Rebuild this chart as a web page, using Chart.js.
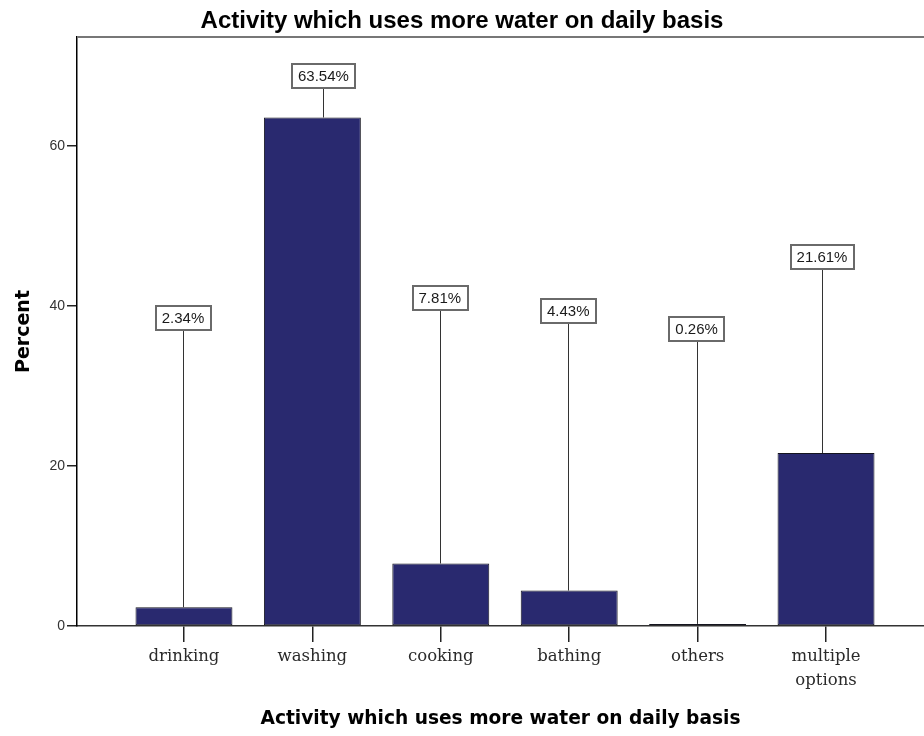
<!DOCTYPE html>
<html>
<head>
<meta charset="utf-8">
<title>Activity which uses more water on daily basis</title>
<script src="https://cdn.jsdelivr.net/npm/chart.js@4/dist/chart.umd.min.js"></script>
<style>
  html, body { margin: 0; padding: 0; background: #ffffff; }
  #wrap { width: 924px; height: 736px; position: relative; }
</style>
</head>
<body>
<div id="wrap"><canvas id="chart"></canvas></div>
<script>
// Survey answers: which activity uses the most water each day (% of respondents)
const categories = ['drinking', 'washing', 'cooking', 'bathing', 'others', ['multiple', 'options']];
const percents = [2.34, 63.54, 7.81, 4.43, 0.26, 21.61];
const yTickValues = [0, 20, 40, 60];

const chartTitle = 'Activity which uses more water on daily basis';
const xAxisTitle = 'Activity which uses more water on daily basis';
const yAxisTitle = 'Percent';

// Boxed percentage labels joined to each bar by a leader line
const calloutPlugin = {
  id: 'callouts',
  afterDatasetsDraw(chart, args, opts) {
    const { ctx } = chart;
    const yScale = chart.scales.y;
    const meta = chart.getDatasetMeta(0);
    ctx.save();
    ctx.font = opts.font;
    ctx.textAlign = 'center';
    ctx.textBaseline = 'middle';
    meta.data.forEach((bar, i) => {
      const text = percents[i].toFixed(2) + '%';
      const cx = bar.x + (opts.shift[i] || 0);
      const cy = yScale.getPixelForValue(opts.levels[i]);
      const w = ctx.measureText(text).width + opts.padX * 2;
      const h = opts.boxHeight;
      // leader line
      ctx.strokeStyle = '#333333';
      ctx.lineWidth = 1;
      ctx.beginPath();
      ctx.moveTo(Math.round(cx) + 0.5, cy + h / 2);
      ctx.lineTo(Math.round(cx) + 0.5, bar.y);
      ctx.stroke();
      // box
      const bx = Math.round(cx - w / 2), by = Math.round(cy - h / 2);
      ctx.fillStyle = '#ffffff';
      ctx.fillRect(bx, by, Math.round(w), h);
      ctx.strokeStyle = '#6a6a6a';
      ctx.lineWidth = 2;
      ctx.strokeRect(bx, by, Math.round(w), h);
      ctx.fillStyle = '#1a1a1a';
      ctx.fillText(text, cx, cy + 1);
    });
    ctx.restore();
  }
};

// Frame line along the top of the plot area
const framePlugin = {
  id: 'frame',
  afterDraw(chart) {
    const { ctx, chartArea: a } = chart;
    ctx.save();
    ctx.strokeStyle = '#777777';
    ctx.lineWidth = 2;
    ctx.beginPath();
    ctx.moveTo(a.left, a.top);
    ctx.lineTo(chart.width, a.top);
    ctx.stroke();
    ctx.restore();
  }
};

new Chart(document.getElementById('chart'), {
  type: 'bar',
  data: {
    datasets: [{
      data: percents.map((v, i) => ({ x: i, y: v })),
      backgroundColor: '#29296f',
      borderColor: '#15151f',
      borderWidth: 1,
      borderSkipped: false,
      barPercentage: 0.755,
      categoryPercentage: 1.0
    }]
  },
  options: {
    responsive: true,
    maintainAspectRatio: false,
    animation: false,
    layout: { padding: 0 },
    plugins: {
      legend: { display: false },
      tooltip: { enabled: false },
      title: {
        display: true,
        text: chartTitle,
        color: '#000000',
        font: { family: 'Liberation Sans, Arial, sans-serif', size: 24, weight: 'bold', lineHeight: 1.2 },
        padding: { top: 7, bottom: 1.2 }
      },
      callouts: {
        levels: [38.5, 68.7, 41.0, 39.4, 37.1, 46.1],
        shift: [-1, 11, -1, -1, -1, -4],
        font: '15px "Liberation Sans", Arial, sans-serif',
        padX: 6,
        boxHeight: 24
      }
    },
    scales: {
      x: {
        type: 'linear',
        offset: false,
        min: -0.833,
        max: 5.763,
        afterBuildTicks(scale) {
          scale.ticks = categories.map((_, i) => ({ value: i }));
        },
        afterFit(scale) { scale.height = 110; },
        ticks: {
          autoSkip: false,
          maxRotation: 0,
          minRotation: 0,
          padding: 3,
          color: '#2a2a2a',
          font: { family: 'DejaVu Serif, Liberation Serif, serif', size: 16.5, lineHeight: 1.45 },
          callback: (v) => categories[v]
        },
        grid: { offset: false, drawOnChartArea: false, tickLength: 16, color: '#222222', lineWidth: 1.5 },
        border: { display: true, color: '#333333', width: 1.5 },
        title: {
          display: true,
          text: xAxisTitle,
          color: '#000000',
          font: { family: 'DejaVu Sans, Verdana, sans-serif', size: 18.6, weight: 'bold', lineHeight: 1.2 },
          padding: { top: 0, bottom: 6 }
        }
      },
      y: {
        type: 'linear',
        min: 0,
        max: 73.6,
        afterBuildTicks(scale) {
          scale.ticks = yTickValues.map(v => ({ value: v }));
        },
        afterFit(scale) { scale.width = 77; },
        ticks: {
          padding: 2,
          color: '#333333',
          font: { family: 'Liberation Sans, Arial, sans-serif', size: 14 }
        },
        grid: { drawOnChartArea: false, tickLength: 10, color: '#222222', lineWidth: 1.5 },
        border: { display: true, color: '#000000', width: 1.5 },
        title: {
          display: true,
          text: yAxisTitle,
          color: '#000000',
          font: { family: 'DejaVu Sans, Verdana, sans-serif', size: 19, weight: 'bold', lineHeight: 1.2 },
          padding: { top: 13, bottom: 0 }
        }
      }
    }
  },
  plugins: [calloutPlugin, framePlugin]
});
</script>
</body>
</html>
